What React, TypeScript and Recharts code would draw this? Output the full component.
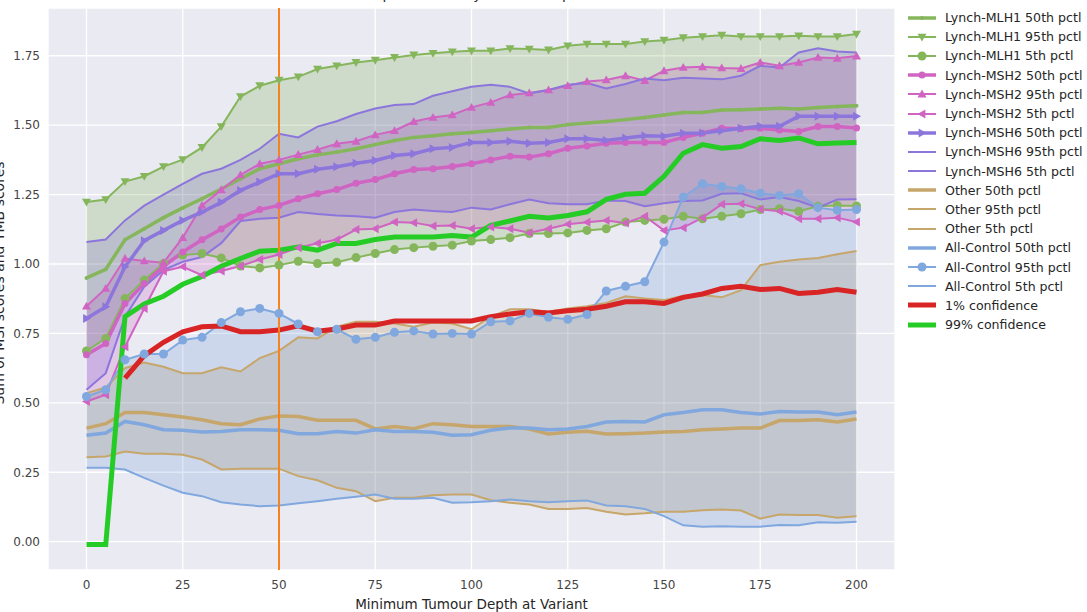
import React from "react";
import {
  Area,
  CartesianGrid,
  ComposedChart,
  Line,
  ReferenceLine,
  XAxis,
  YAxis
} from "recharts";

// minimum tumour depth at variant (x axis)
const DEPTH = [
  0, 5, 10, 15, 20, 25, 30, 35, 40, 45, 50, 55, 60, 65, 70, 75, 80, 85, 90, 95, 100,
  105, 110, 115, 120, 125, 130, 135, 140, 145, 150, 155, 160, 165, 170, 175, 180, 185, 190, 195, 200
];

const MLH1_50 = [
  0.95, 0.981, 1.087, 1.127, 1.167, 1.202, 1.235, 1.27, 1.307, 1.343, 1.361, 1.379, 1.393, 1.403, 1.415, 1.43, 1.445, 1.456, 1.462, 1.469, 1.474,
  1.48, 1.486, 1.492, 1.492, 1.502, 1.508, 1.513, 1.52, 1.528, 1.537, 1.546, 1.546, 1.555, 1.556, 1.558, 1.561, 1.558, 1.564, 1.567, 1.57
];
const MLH1_95 = [
  1.223, 1.232, 1.297, 1.316, 1.351, 1.376, 1.42, 1.495, 1.603, 1.642, 1.662, 1.674, 1.702, 1.714, 1.726, 1.734, 1.744, 1.753, 1.759, 1.764, 1.768,
  1.768, 1.776, 1.774, 1.771, 1.786, 1.792, 1.792, 1.792, 1.801, 1.806, 1.815, 1.819, 1.824, 1.819, 1.819, 1.819, 1.822, 1.819, 1.819, 1.828
];
const MLH1_5 = [
  0.687, 0.732, 0.876, 0.942, 1.002, 1.032, 1.038, 1.022, 0.993, 0.986, 0.996, 1.01, 1.002, 1.006, 1.023, 1.038, 1.052, 1.059, 1.064, 1.068, 1.083,
  1.088, 1.095, 1.11, 1.11, 1.112, 1.121, 1.127, 1.151, 1.157, 1.161, 1.172, 1.163, 1.172, 1.181, 1.196, 1.199, 1.19, 1.208, 1.211, 1.209
];

const MSH2_50 = [
  0.673, 0.714, 0.858, 0.93, 0.992, 1.043, 1.087, 1.126, 1.169, 1.196, 1.211, 1.235, 1.253, 1.268, 1.291, 1.304, 1.325, 1.34, 1.343, 1.351, 1.361,
  1.375, 1.388, 1.385, 1.397, 1.417, 1.425, 1.435, 1.438, 1.438, 1.438, 1.456, 1.471, 1.489, 1.487, 1.489, 1.483, 1.477, 1.495, 1.495, 1.49
];
const MSH2_95 = [
  0.848, 0.912, 1.02, 1.011, 1.005, 1.095, 1.211, 1.267, 1.321, 1.361, 1.375, 1.394, 1.412, 1.433, 1.442, 1.465, 1.48, 1.513, 1.528, 1.537, 1.564,
  1.582, 1.609, 1.616, 1.627, 1.642, 1.657, 1.663, 1.678, 1.66, 1.696, 1.708, 1.71, 1.706, 1.704, 1.726, 1.714, 1.726, 1.744, 1.741, 1.749
];
const MSH2_5 = [
  0.505, 0.529, 0.702, 0.84, 0.974, 0.99, 0.96, 0.975, 0.993, 1.016, 1.034, 1.059, 1.075, 1.087, 1.124, 1.127, 1.151, 1.149, 1.137, 1.139, 1.127,
  1.133, 1.127, 1.113, 1.127, 1.143, 1.15, 1.157, 1.148, 1.172, 1.121, 1.131, 1.167, 1.215, 1.217, 1.197, 1.19, 1.163, 1.163, 1.167, 1.151
];

const MSH6_50 = [
  0.804, 0.846, 0.99, 1.084, 1.121, 1.157, 1.187, 1.222, 1.265, 1.295, 1.325, 1.325, 1.341, 1.35, 1.363, 1.373, 1.391, 1.397, 1.415, 1.42, 1.438,
  1.438, 1.442, 1.435, 1.438, 1.451, 1.451, 1.445, 1.454, 1.462, 1.46, 1.471, 1.472, 1.48, 1.489, 1.496, 1.496, 1.532, 1.532, 1.532, 1.532
];
const MSH6_95 = [
  1.079, 1.088, 1.157, 1.21, 1.25, 1.289, 1.325, 1.343, 1.375, 1.415, 1.469, 1.456, 1.495, 1.514, 1.54, 1.56, 1.573, 1.576, 1.606, 1.622, 1.638,
  1.646, 1.638, 1.614, 1.627, 1.646, 1.652, 1.632, 1.648, 1.668, 1.662, 1.671, 1.668, 1.665, 1.678, 1.714, 1.708, 1.762, 1.777, 1.765, 1.762
];
const MSH6_5 = [
  0.547, 0.607, 0.81, 0.918, 0.978, 1.008, 1.025, 1.075, 1.155, 1.163, 1.167, 1.187, 1.18, 1.175, 1.172, 1.167, 1.187, 1.196, 1.191, 1.187, 1.203,
  1.196, 1.215, 1.232, 1.219, 1.215, 1.215, 1.229, 1.227, 1.208, 1.219, 1.227, 1.229, 1.253, 1.255, 1.232, 1.241, 1.227, 1.203, 1.232, 1.233
];

const OTHER_50 = [
  0.409, 0.425, 0.465, 0.465, 0.457, 0.449, 0.439, 0.425, 0.421, 0.442, 0.453, 0.451, 0.437, 0.437, 0.437, 0.406, 0.415, 0.407, 0.425, 0.421, 0.415,
  0.415, 0.415, 0.406, 0.388, 0.394, 0.398, 0.388, 0.389, 0.391, 0.395, 0.397, 0.403, 0.406, 0.409, 0.409, 0.436, 0.436, 0.439, 0.431, 0.442
];
const OTHER_95 = [
  0.535, 0.555, 0.625, 0.645, 0.63, 0.607, 0.607, 0.628, 0.613, 0.661, 0.687, 0.736, 0.732, 0.774, 0.792, 0.792, 0.786, 0.774, 0.789, 0.786, 0.765,
  0.81, 0.837, 0.837, 0.828, 0.84, 0.848, 0.86, 0.884, 0.876, 0.87, 0.886, 0.888, 0.88, 0.906, 0.996, 1.008, 1.016, 1.022, 1.035, 1.047
];
const OTHER_5 = [
  0.304, 0.307, 0.325, 0.317, 0.317, 0.313, 0.296, 0.26, 0.263, 0.263, 0.263, 0.236, 0.221, 0.194, 0.182, 0.146, 0.158, 0.158, 0.167, 0.17, 0.17,
  0.149, 0.14, 0.134, 0.118, 0.118, 0.121, 0.108, 0.098, 0.102, 0.108, 0.108, 0.113, 0.116, 0.112, 0.083, 0.098, 0.096, 0.096, 0.086, 0.092
];

const CTRL_50 = [
  0.383, 0.391, 0.433, 0.421, 0.403, 0.401, 0.395, 0.397, 0.403, 0.403, 0.401, 0.389, 0.389, 0.397, 0.391, 0.403, 0.397, 0.397, 0.394, 0.383, 0.385,
  0.401, 0.409, 0.409, 0.403, 0.406, 0.415, 0.431, 0.433, 0.431, 0.457, 0.465, 0.475, 0.475, 0.465, 0.46, 0.469, 0.467, 0.467, 0.457, 0.467
];
const CTRL_95 = [
  0.523, 0.547, 0.655, 0.676, 0.676, 0.726, 0.736, 0.789, 0.828, 0.84, 0.822, 0.784, 0.756, 0.765, 0.729, 0.736, 0.754, 0.759, 0.748, 0.75, 0.748,
  0.792, 0.795, 0.822, 0.808, 0.801, 0.818, 0.903, 0.92, 0.936, 1.079, 1.241, 1.289, 1.279, 1.271, 1.255, 1.247, 1.253, 1.203, 1.194, 1.196
];
const CTRL_5 = [
  0.266, 0.266, 0.26, 0.23, 0.202, 0.176, 0.164, 0.142, 0.134, 0.128, 0.13, 0.138, 0.146, 0.155, 0.162, 0.17, 0.155, 0.155, 0.158, 0.14, 0.142,
  0.146, 0.152, 0.146, 0.142, 0.146, 0.148, 0.13, 0.128, 0.118, 0.092, 0.059, 0.054, 0.056, 0.054, 0.054, 0.06, 0.059, 0.07, 0.068, 0.072
];

const CONF_1 = [
  null, null, 0.589, 0.67, 0.718, 0.756, 0.774, 0.777, 0.756, 0.756, 0.762, 0.777, 0.758, 0.766, 0.78, 0.78, 0.795, 0.795, 0.795, 0.795, 0.795,
  0.81, 0.82, 0.828, 0.824, 0.832, 0.837, 0.848, 0.864, 0.864, 0.858, 0.88, 0.892, 0.912, 0.92, 0.908, 0.912, 0.894, 0.898, 0.908, 0.898
];
const CONF_99 = [
  -0.01, -0.01, 0.81, 0.856, 0.884, 0.927, 0.955, 0.992, 1.02, 1.046, 1.05, 1.061, 1.05, 1.074, 1.074, 1.088, 1.097, 1.097, 1.097, 1.103, 1.097,
  1.139, 1.155, 1.172, 1.166, 1.175, 1.188, 1.233, 1.251, 1.255, 1.316, 1.399, 1.43, 1.417, 1.423, 1.451, 1.445, 1.454, 1.433, 1.436, 1.438
];

const X_TICKS = [0, 25, 50, 75, 100, 125, 150, 175, 200];
const Y_TICKS = [0, 0.25, 0.5, 0.75, 1, 1.25, 1.5, 1.75];
const CUTOFF_DEPTH = 50;

const FONT = "'DejaVu Sans', sans-serif";

type Shape = "o" | "v" | "^" | "<" | ">" | "." | "none";

interface SeriesDef {
  key: string;
  name: string;
  values: (number | null)[];
  color: string;
  width: number;
  shape: Shape;
  size: number;
}

const C = {
  mlh1: "#86b65c",
  msh2: "#d064c2",
  msh6: "#8c76dc",
  other: "#c6a66a",
  ctrl: "#80a8de",
  low: "#d82424",
  high: "#26cc26",
  cut: "#f5841f"
};

const SERIES: SeriesDef[] = [
  { key: "mlh1_50", name: "Lynch-MLH1 50th pctl", values: MLH1_50, color: C.mlh1, width: 3.5, shape: ".", size: 2 },
  { key: "mlh1_95", name: "Lynch-MLH1 95th pctl", values: MLH1_95, color: C.mlh1, width: 2, shape: "v", size: 4.5 },
  { key: "mlh1_5", name: "Lynch-MLH1 5th pctl", values: MLH1_5, color: C.mlh1, width: 2, shape: "o", size: 4.5 },
  { key: "msh2_50", name: "Lynch-MSH2 50th pctl", values: MSH2_50, color: C.msh2, width: 3.5, shape: "o", size: 3.5 },
  { key: "msh2_95", name: "Lynch-MSH2 95th pctl", values: MSH2_95, color: C.msh2, width: 2, shape: "^", size: 4.5 },
  { key: "msh2_5", name: "Lynch-MSH2 5th pctl", values: MSH2_5, color: C.msh2, width: 2, shape: "<", size: 4.5 },
  { key: "msh6_50", name: "Lynch-MSH6 50th pctl", values: MSH6_50, color: C.msh6, width: 3.5, shape: ">", size: 4.5 },
  { key: "msh6_95", name: "Lynch-MSH6 95th pctl", values: MSH6_95, color: C.msh6, width: 2, shape: "none", size: 0 },
  { key: "msh6_5", name: "Lynch-MSH6 5th pctl", values: MSH6_5, color: C.msh6, width: 2, shape: "none", size: 0 },
  { key: "other_50", name: "Other 50th pctl", values: OTHER_50, color: C.other, width: 3.5, shape: "none", size: 0 },
  { key: "other_95", name: "Other 95th pctl", values: OTHER_95, color: C.other, width: 2, shape: "none", size: 0 },
  { key: "other_5", name: "Other 5th pctl", values: OTHER_5, color: C.other, width: 2, shape: "none", size: 0 },
  { key: "ctrl_50", name: "All-Control 50th pctl", values: CTRL_50, color: C.ctrl, width: 3.5, shape: "none", size: 0 },
  { key: "ctrl_95", name: "All-Control 95th pctl", values: CTRL_95, color: C.ctrl, width: 2, shape: "o", size: 4.5 },
  { key: "ctrl_5", name: "All-Control 5th pctl", values: CTRL_5, color: C.ctrl, width: 2, shape: "none", size: 0 },
  { key: "conf_1", name: "1% confidence", values: CONF_1, color: C.low, width: 5, shape: "none", size: 0 },
  { key: "conf_99", name: "99% confidence", values: CONF_99, color: C.high, width: 5, shape: "none", size: 0 }
];

// shaded 5th..95th percentile bands, one per group
const BANDS = [
  { key: "mlh1_band", lo: MLH1_5, hi: MLH1_95, fill: "#5e9c2c" },
  { key: "msh2_band", lo: MSH2_5, hi: MSH2_95, fill: "#c043b2" },
  { key: "msh6_band", lo: MSH6_5, hi: MSH6_95, fill: "#7658d6" },
  { key: "other_band", lo: OTHER_5, hi: OTHER_95, fill: "#a8843c" },
  { key: "ctrl_band", lo: CTRL_5, hi: CTRL_95, fill: "#5a8ad6" }
];

const rows = DEPTH.map((depth, i) => {
  const row: Record<string, unknown> = { depth };
  SERIES.forEach((s) => {
    row[s.key] = s.values[i];
  });
  BANDS.forEach((b) => {
    row[b.key] = [b.lo[i], b.hi[i]];
  });
  return row;
});

function Marker({ cx, cy, shape, size, color }: { cx: number; cy: number; shape: Shape; size: number; color: string }) {
  const s = size;
  if (shape === "o" || shape === ".") {
    return <circle cx={cx} cy={cy} r={s} fill={color} />;
  }
  let pts: number[][] = [];
  if (shape === "v") pts = [[cx - s, cy - s * 0.75], [cx + s, cy - s * 0.75], [cx, cy + s]];
  if (shape === "^") pts = [[cx - s, cy + s * 0.75], [cx + s, cy + s * 0.75], [cx, cy - s]];
  if (shape === "<") pts = [[cx + s * 0.75, cy - s], [cx + s * 0.75, cy + s], [cx - s, cy]];
  if (shape === ">") pts = [[cx - s * 0.75, cy - s], [cx - s * 0.75, cy + s], [cx + s, cy]];
  if (!pts.length) return null;
  return <polygon points={pts.map((p) => p.join(",")).join(" ")} fill={color} />;
}

function dotFor(s: SeriesDef) {
  if (s.shape === "none") return false;
  return (props: any) => {
    const k = `${s.key}-${props.index}`;
    if (props.cx == null || props.cy == null || props.value == null) return <g key={k} />;
    return (
      <g key={k}>
        <Marker cx={props.cx} cy={props.cy} shape={s.shape} size={s.size} color={s.color} />
      </g>
    );
  };
}

function LegendBox() {
  return (
    <div style={{ position: "absolute", left: 906, top: 8, fontFamily: FONT, fontSize: 12.6, color: "#262626" }}>
      {SERIES.map((s) => (
        <div key={s.key} style={{ display: "flex", alignItems: "center", height: 19.2 }}>
          <svg width={32} height={14} style={{ marginRight: 7 }}>
            <line x1={2} x2={30} y1={7} y2={7} stroke={s.color} strokeWidth={s.width} />
            {s.shape !== "none" ? <Marker cx={16} cy={7} shape={s.shape} size={s.size} color={s.color} /> : null}
          </svg>
          <span style={{ whiteSpace: "nowrap" }}>{s.name}</span>
        </div>
      ))}
    </div>
  );
}

export default function App() {
  return (
    <div style={{ position: "absolute", left: 0, top: 0, width: 1087, height: 612, background: "#fff", overflow: "hidden" }}>
      <ComposedChart
        width={1087}
        height={612}
        data={rows}
        margin={{ top: 8, right: 192, bottom: 0, left: 0 }}
      >
        <CartesianGrid fill="#eaeaf2" fillOpacity={1} stroke="#ffffff" strokeWidth={1.3} />
        <XAxis
          dataKey="depth"
          type="number"
          domain={[-10, 210]}
          ticks={X_TICKS}
          height={42}
          axisLine={false}
          tickLine={false}
          tick={{ fill: "#444", fontSize: 12, fontFamily: FONT, dy: 2 }}
          label={{ value: "Minimum Tumour Depth at Variant", position: "insideBottom", offset: 3, fill: "#262626", fontSize: 13.5, fontFamily: FONT }}
        />
        <YAxis
          type="number"
          domain={[-0.102, 1.922]}
          ticks={Y_TICKS}
          width={48}
          axisLine={false}
          tickLine={false}
          allowDataOverflow
          tickFormatter={(v) => Number(v).toFixed(2)}
          tick={{ fill: "#444", fontSize: 12, fontFamily: FONT }}
        />
        {BANDS.map((b) => (
          <Area
            key={b.key}
            dataKey={b.key}
            type="linear"
            stroke="none"
            fill={b.fill}
            fillOpacity={0.2}
            isAnimationActive={false}
            activeDot={false}
          />
        ))}
        {SERIES.map((s) => (
          <Line
            key={s.key}
            dataKey={s.key}
            name={s.name}
            type="linear"
            stroke={s.color}
            strokeWidth={s.width}
            dot={dotFor(s)}
            activeDot={false}
            isAnimationActive={false}
          />
        ))}
        <ReferenceLine x={CUTOFF_DEPTH} stroke={C.cut} strokeWidth={2} />
      </ComposedChart>
      <svg width={1087} height={612} style={{ position: "absolute", left: 0, top: 0, pointerEvents: "none" }}>
        <text x={462} y={-1} textAnchor="middle" fontFamily={FONT} fontSize={14} fill="#262626">
          Score percentiles by Tumour Depth
        </text>
        <text transform="rotate(-90)" x={-283} y={4} textAnchor="middle" fontFamily={FONT} fontSize={14} fill="#262626">
          Sum of MSI scores and TMB scores
        </text>
      </svg>
      <LegendBox />
    </div>
  );
}
